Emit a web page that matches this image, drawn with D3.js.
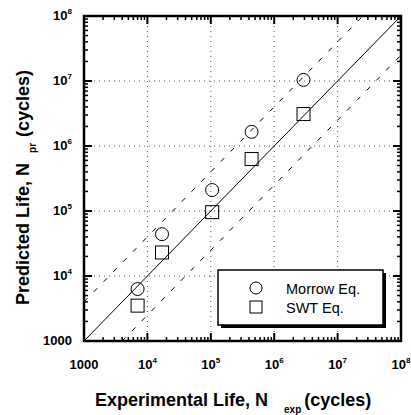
<!DOCTYPE html>
<html>
<head>
<meta charset="utf-8">
<script src="https://cdn.jsdelivr.net/npm/d3@7"></script>
<style>
  body { margin: 0; background: #fff; }
  svg { display: block; }
  text { font-family: "Liberation Sans", Arial, Helvetica, sans-serif; fill: #000; }
</style>
</head>
<body>
<svg id="chart" width="411" height="415"></svg>
<script>
// values
var expLife    = [7.0e3, 1.7e4, 1.05e5, 4.4e5, 2.9e6];
var morrowPred = [6.3e3, 4.4e4, 2.1e5, 1.65e6, 1.04e7];
var swtPred    = [3.5e3, 2.3e4, 9.6e4, 6.3e5, 3.1e6];
var majorTicks = [1e3, 1e4, 1e5, 1e6, 1e7, 1e8];
var tickExp    = ["", "4", "5", "6", "7", "8"];   // "" -> plain 1000
var bandFactor = 4;   // dashed scatter band
var legendNames = ["Morrow Eq.", "SWT Eq."];

var svg = d3.select('#chart');
var m = {left: 84, right: 401, top: 16, bottom: 341};

var x = d3.scaleLog().domain([1e3, 1e8]).range([m.left, m.right]);
var y = d3.scaleLog().domain([1e3, 1e8]).range([m.bottom, m.top]);

// minor ticks 2..9 per decade
var minor = [];
for (var e = 3; e < 8; e++) {
  for (var k = 2; k < 10; k++) minor.push(k * Math.pow(10, e));
}

// grid
var g = svg.append('g');
majorTicks.slice(1, -1).forEach(function(v){
  g.append('line').attr('x1', x(v)).attr('x2', x(v)).attr('y1', m.top).attr('y2', m.bottom)
    .attr('stroke', '#555').attr('stroke-width', 1).attr('stroke-dasharray', '1,4');
  g.append('line').attr('y1', y(v)).attr('y2', y(v)).attr('x1', m.left).attr('x2', m.right)
    .attr('stroke', '#555').attr('stroke-width', 1).attr('stroke-dasharray', '1,4');
});

// 1:1 line and scatter band
var line = d3.line().x(function(d){ return x(d[0]); }).y(function(d){ return y(d[1]); });
svg.append('path').datum([[1e3, 1e3], [1e8, 1e8]]).attr('d', line)
  .attr('stroke', '#000').attr('stroke-width', 1).attr('fill', 'none');
svg.append('path').datum([[1e3, 1e3 * bandFactor], [1e8 / bandFactor, 1e8]]).attr('d', line)
  .attr('stroke', '#000').attr('stroke-width', 1).attr('fill', 'none').attr('stroke-dasharray', '5,9');
svg.append('path').datum([[1e3 * bandFactor, 1e3], [1e8, 1e8 / bandFactor]]).attr('d', line)
  .attr('stroke', '#000').attr('stroke-width', 1).attr('fill', 'none').attr('stroke-dasharray', '5,9');

// axes (ticks inward all four sides)
function axisTicks(axisG, scale, orient){
  var len = function(major){ return major ? 8 : 4; };
  var all = majorTicks.map(function(v){ return {v: v, major: true}; })
    .concat(minor.map(function(v){ return {v: v, major: false}; }));
  all.forEach(function(t){
    var p = scale(t.v), l = len(t.major);
    var ln = axisG.append('line').attr('stroke', '#000').attr('stroke-width', t.major ? 2 : 1.5);
    if (orient === 'bottom') ln.attr('x1', p).attr('x2', p).attr('y1', m.bottom).attr('y2', m.bottom - l);
    if (orient === 'top')    ln.attr('x1', p).attr('x2', p).attr('y1', m.top).attr('y2', m.top + l);
    if (orient === 'left')   ln.attr('y1', p).attr('y2', p).attr('x1', m.left).attr('x2', m.left + l);
    if (orient === 'right')  ln.attr('y1', p).attr('y2', p).attr('x1', m.right).attr('x2', m.right - l);
  });
}
var ax = svg.append('g');
['bottom', 'top'].forEach(function(o){ axisTicks(ax, x, o); });
['left', 'right'].forEach(function(o){ axisTicks(ax, y, o); });
ax.append('rect').attr('x', m.left).attr('y', m.top)
  .attr('width', m.right - m.left).attr('height', m.bottom - m.top)
  .attr('fill', 'none').attr('stroke', '#000').attr('stroke-width', 2.5);

// tick labels
function tickLabel(sel, i){
  if (tickExp[i] === '') { sel.text('1000'); return; }
  sel.append('tspan').text('10');
  sel.append('tspan').attr('dy', -6).attr('font-size', 8).text(tickExp[i]);
}
majorTicks.forEach(function(v, i){
  var t = svg.append('text').attr('x', x(v)).attr('y', 369)
    .attr('text-anchor', 'middle').attr('font-size', 13).attr('font-weight', 'bold');
  tickLabel(t, i);
  var t2 = svg.append('text').attr('x', 72).attr('y', y(v) + 4)
    .attr('text-anchor', 'end').attr('font-size', 13).attr('font-weight', 'bold');
  tickLabel(t2, i);
});

// points
var mk = svg.append('g');
mk.selectAll('circle').data(expLife).enter().append('circle')
  .attr('cx', function(d){ return x(d); })
  .attr('cy', function(d, i){ return y(morrowPred[i]); })
  .attr('r', 6.5).attr('fill', 'none').attr('stroke', '#000').attr('stroke-width', 1);
mk.selectAll('rect').data(expLife).enter().append('rect')
  .attr('x', function(d){ return x(d) - 6.5; })
  .attr('y', function(d, i){ return y(swtPred[i]) - 6.5; })
  .attr('width', 13).attr('height', 13)
  .attr('fill', 'none').attr('stroke', '#000').attr('stroke-width', 1);

// legend with drop shadow
var lg = svg.append('g');
lg.append('rect').attr('x', 221).attr('y', 273).attr('width', 165).attr('height', 55).attr('fill', '#000');
lg.append('rect').attr('x', 218).attr('y', 270).attr('width', 165).attr('height', 55)
  .attr('fill', '#fff').attr('stroke', '#000').attr('stroke-width', 1.5);
lg.append('circle').attr('cx', 256).attr('cy', 288).attr('r', 6)
  .attr('fill', 'none').attr('stroke', '#000').attr('stroke-width', 1);
lg.append('rect').attr('x', 250).attr('y', 301).attr('width', 12).attr('height', 12)
  .attr('fill', 'none').attr('stroke', '#000').attr('stroke-width', 1);
legendNames.forEach(function(n, i){
  lg.append('text').attr('x', 286).attr('y', 294 + i * 19).attr('font-size', 14.5).text(n);
});

// axis titles
var xt = svg.append('text').attr('x', 95).attr('y', 406).attr('font-size', 18).attr('font-weight', 'bold');
xt.append('tspan').text('Experimental Life, N');
xt.append('tspan').attr('dx', 16).attr('dy', 7).attr('font-size', 10).text('exp');
xt.append('tspan').attr('dy', -7).attr('dx', 3).text('(cycles)');

var yt = svg.append('text').attr('transform', 'translate(29,305) rotate(-90)')
  .attr('font-size', 18).attr('font-weight', 'bold');
yt.append('tspan').text('Predicted Life, N');
yt.append('tspan').attr('dx', 10).attr('dy', 7).attr('font-size', 10).text('pr');
yt.append('tspan').attr('dy', -7).attr('dx', 6).text('(cycles)');
</script>
</body>
</html>
